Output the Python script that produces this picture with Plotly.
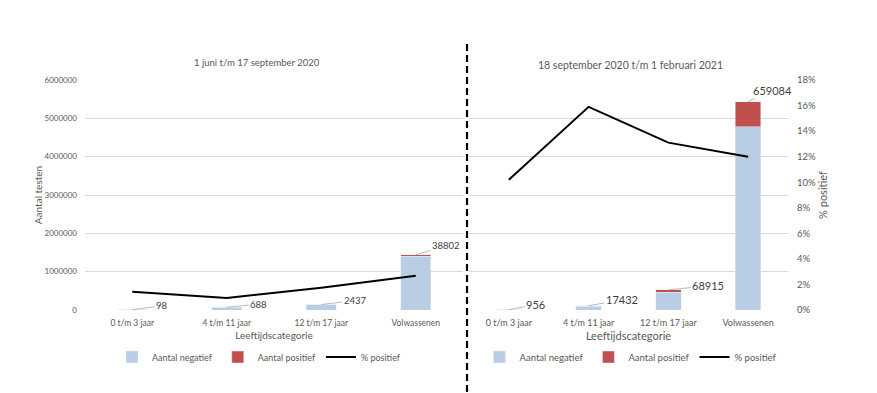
import plotly.graph_objects as go

categories = ["0 t/m 3 jaar", "4 t/m 11 jaar", "12 t/m 17 jaar", "Volwassenen"]

# Period 1: 1 juni t/m 17 september 2020
p1_negatief = [6750, 72500, 140000, 1398000]
p1_positief = [98, 688, 2437, 38802]
p1_pct = [0.0143, 0.0094, 0.0175, 0.0268]

# Period 2: 18 september 2020 t/m 1 februari 2021
p2_negatief = [8450, 92200, 457000, 4780000]
p2_positief = [956, 17432, 68915, 659084]
p2_pct = [0.102, 0.159, 0.131, 0.120]

title1 = "1 juni t/m 17 september 2020"
title2 = "18 september 2020 t/m 1 februari 2021"

C_NEG = "#B9CDE5"
C_POS = "#C0504D"
C_LINE = "#000000"
C_TXT = "#595959"
C_GRID = "#D9D9D9"
FONT = "Lato"

W, H = 877, 393
def px(x):
    return x / W
def py(y):
    return 1 - y / H

fig = go.Figure()

# ---- Left chart
fig.add_trace(go.Bar(x=categories, y=p1_negatief, name="Aantal negatief", marker_color=C_NEG,
                     width=0.32, xaxis="x", yaxis="y", legend="legend", hoverinfo="y"))
fig.add_trace(go.Bar(x=categories, y=p1_positief, name="Aantal positief", marker_color=C_POS,
                     width=0.32, xaxis="x", yaxis="y", legend="legend", hoverinfo="y"))
fig.add_trace(go.Scatter(x=categories, y=p1_pct, name="% positief", mode="lines",
                         line=dict(color=C_LINE, width=2), xaxis="x", yaxis="y2", legend="legend"))

# ---- Right chart
fig.add_trace(go.Bar(x=categories, y=p2_negatief, name="Aantal negatief", marker_color=C_NEG,
                     width=0.32, xaxis="x2", yaxis="y3", legend="legend2", hoverinfo="y"))
fig.add_trace(go.Bar(x=categories, y=p2_positief, name="Aantal positief", marker_color=C_POS,
                     width=0.32, xaxis="x2", yaxis="y3", legend="legend2", hoverinfo="y"))
fig.add_trace(go.Scatter(x=categories, y=p2_pct, name="% positief", mode="lines",
                         line=dict(color=C_LINE, width=2), xaxis="x2", yaxis="y4", legend="legend2"))

ydom = [py(310), py(80)]

fig.update_layout(
    width=W, height=H,
    margin=dict(l=0, r=0, t=0, b=0, autoexpand=False),
    paper_bgcolor="white", plot_bgcolor="white",
    barmode="stack",
    font=dict(family=FONT, color=C_TXT),
    xaxis=dict(domain=[px(85), px(463)], anchor="y", type="category", range=[-0.5, 3.5],
               showgrid=False, showline=False, ticks="", ticklabelstandoff=6,
               tickfont=dict(family=FONT, size=8.5, color=C_TXT),
               title=dict(text="Leeftijdscategorie", font=dict(family=FONT, size=10, color=C_TXT), standoff=5)),
    yaxis=dict(domain=ydom, range=[0, 6000000], dtick=1000000, showgrid=True, gridcolor=C_GRID,
               gridwidth=1, zeroline=False, ticks="", tickfont=dict(family=FONT, size=8, color=C_TXT),
               tickformat="d", ticklabelstandoff=7,
               title=dict(text="Aantal testen", font=dict(family=FONT, size=10, color=C_TXT), standoff=0)),
    yaxis2=dict(domain=ydom, overlaying="y", anchor="x", side="right", range=[0, 0.18],
                showgrid=False, showticklabels=False, zeroline=False),
    xaxis2=dict(domain=[px(469), px(788)], anchor="y3", type="category", range=[-0.5, 3.5],
                showgrid=False, showline=False, ticks="", ticklabelstandoff=6,
                tickfont=dict(family=FONT, size=9, color=C_TXT),
                title=dict(text="Leeftijdscategorie", font=dict(family=FONT, size=11, color=C_TXT), standoff=5)),
    yaxis3=dict(domain=ydom, anchor="x2", range=[0, 6000000], dtick=1000000, showgrid=True,
                gridcolor=C_GRID, gridwidth=1, zeroline=False, showticklabels=False, ticks=""),
    yaxis4=dict(domain=ydom, anchor="x2", overlaying="y3", side="right", range=[0, 0.18], dtick=0.02,
                tickformat=".0%", showgrid=False, zeroline=False, ticks="",
                tickfont=dict(family=FONT, size=9.5, color=C_TXT), ticklabelstandoff=8,
                title=dict(text="% positief", font=dict(family=FONT, size=11, color=C_TXT), standoff=4)),
    legend=dict(orientation="h", x=px(259), y=py(357), xanchor="center", yanchor="middle",
                font=dict(family=FONT, size=9, color=C_TXT), bgcolor="rgba(0,0,0,0)",
                traceorder="normal", itemwidth=30),
    legend2=dict(orientation="h", x=px(631), y=py(357), xanchor="center", yanchor="middle",
                 font=dict(family=FONT, size=9.5, color=C_TXT), bgcolor="rgba(0,0,0,0)",
                 traceorder="normal", itemwidth=30),
    showlegend=True,
)

# Titles
fig.add_annotation(text=title1, xref="paper", yref="paper", x=px(257), y=py(63),
                   xanchor="center", yanchor="middle",
                   showarrow=False, font=dict(family=FONT, size=9.5, color=C_TXT))
fig.add_annotation(text=title2, xref="paper", yref="paper", x=px(630), y=py(65),
                   xanchor="center", yanchor="middle",
                   showarrow=False, font=dict(family=FONT, size=10.5, color=C_TXT))

# Data labels with leader lines (positives at stack top)
off1 = [(30, -4), (32, -3), (34, -4), (30, -9)]
for i, c in enumerate(categories):
    top = p1_negatief[i] + p1_positief[i]
    fig.add_annotation(x=c, y=top, xref="x", yref="y", text=str(p1_positief[i]),
                       showarrow=True, arrowhead=0, arrowwidth=0.8, arrowcolor="#A6A6A6",
                       ax=off1[i][0], ay=off1[i][1], standoff=0,
                       font=dict(family=FONT, size=9.5, color="#404040"))
off2 = [(27, -5), (33, -6), (40, -4), (24, -11)]
for i, c in enumerate(categories):
    top = p2_negatief[i] + p2_positief[i]
    fig.add_annotation(x=c, y=top, xref="x2", yref="y3", text=str(p2_positief[i]),
                       showarrow=True, arrowhead=0, arrowwidth=0.8, arrowcolor="#A6A6A6",
                       ax=off2[i][0], ay=off2[i][1], standoff=0,
                       font=dict(family=FONT, size=11, color="#404040"))

# Dashed separator
fig.add_shape(type="line", xref="paper", yref="paper", x0=px(467), x1=px(467), y0=py(44), y1=0,
              line=dict(color="black", width=2.2, dash="7px,4px"))

fig.write_html("out.html", config={"displayModeBar": False},
               post_script="document.body.style.margin='0';document.body.style.overflow='hidden';")
